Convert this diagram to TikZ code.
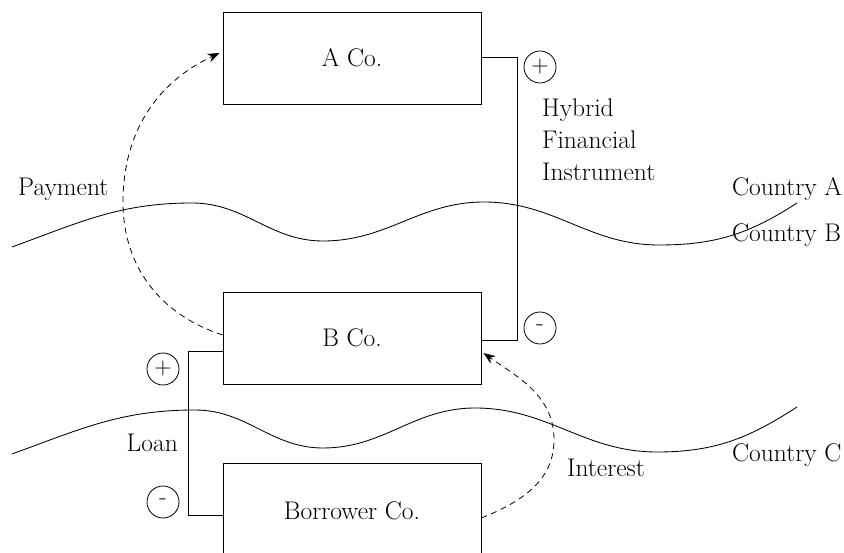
\documentclass[tikz,border=0pt]{standalone}
\usetikzlibrary{arrows.meta}
\begin{document}
\begin{tikzpicture}[x=1pt,y=1pt,
  every node/.style={font=\fontsize{25.5}{30}\selectfont},
  cobox/.style={draw, line width=0.85pt, minimum width=258pt, inner sep=0pt},
  sign/.style={draw, circle, line width=0.8pt, minimum size=32pt, inner sep=0pt, font=\fontsize{24}{24}\selectfont},
  link/.style={line width=0.85pt},
  wave/.style={line width=0.85pt},
  flow/.style={line width=0.8pt, dash pattern=on 6pt off 4.5pt, -{Stealth[length=12pt,width=9pt]}},
  lbl/.style={anchor=base west, inner sep=0pt}]
\useasboundingbox (0,0) rectangle (844,552);
\clip (0,0) rectangle (844,552);
% boxes
\node[cobox, minimum height=92pt] (A) at (352,494) {A Co.};
\node[cobox, minimum height=92pt] (B) at (352,214) {B Co.};
\node[cobox, minimum height=96pt] (C) at (352,41) {Borrower Co.};
% signs
\node[sign] (sA) at (540,485) {+};
\node[sign] (sB) at (540,224) {-};
\node[sign] (sL) at (163,183) {+};
\node[sign] (sC) at (163,50) {-};
% hybrid instrument link
\coordinate (h1) at (517,495);
\coordinate (h2) at (517,212);
\draw[link] ([yshift=1pt]A.east) -- (h1) -- (h2) -- ([yshift=-2pt]B.east);
% loan link
\coordinate (l0) at ([yshift=-13pt]B.west);
\coordinate (l1) at (188,201);
\coordinate (l2) at (188,37);
\coordinate (l3) at ([yshift=-4pt]C.west);
\draw[link] (l0) -- (l1) -- (l2) -- (l3);
% borders
\draw[wave] (12,305) to[out=20,in=180] (192,349) to[out=0,in=180] (323,311)
  to[out=0,in=180] (484,350) to[out=0,in=180] (659,307) to[out=0,in=213] (797,349);
\draw[wave] (12,98) to[out=20,in=180] (195,142) to[out=0,in=180] (323,104)
  to[out=0,in=180] (475,144) to[out=0,in=180] (657,100) to[out=0,in=213] (797,145);
% payment and interest flows
\coordinate (p0) at ([yshift=3pt]B.west);
\coordinate (pm) at (123,350);
\coordinate (p1) at ([xshift=-3pt,yshift=5pt]A.west);
\draw[flow] (p0) to[out=162,in=-90] (pm) to[out=90,in=205] (p1);
\coordinate (i0) at ([yshift=-7pt]C.east);
\coordinate (im) at (554,112);
\coordinate (i1) at ([xshift=2pt,yshift=-15pt]B.east);
\draw[flow] (i0) to[out=22,in=-90] (im) to[out=90,in=-35] (i1);
% labels
\node[lbl] (t1) at (542,435) {Hybrid};
\node[lbl] (t2) at (542,403) {Financial};
\node[lbl] (t3) at (542,371) {Instrument};
\node[lbl] (pay) at (18,356) {Payment};
\node[lbl] (ca) at (732,356) {Country A};
\node[lbl] (cb) at (732,310) {Country B};
\node[lbl] (cc) at (732,90) {Country C};
\node[lbl] (int) at (567,75) {Interest};
\node[anchor=base east, inner sep=0pt] (loan) at (178,100) {Loan};
\end{tikzpicture}
\end{document}
